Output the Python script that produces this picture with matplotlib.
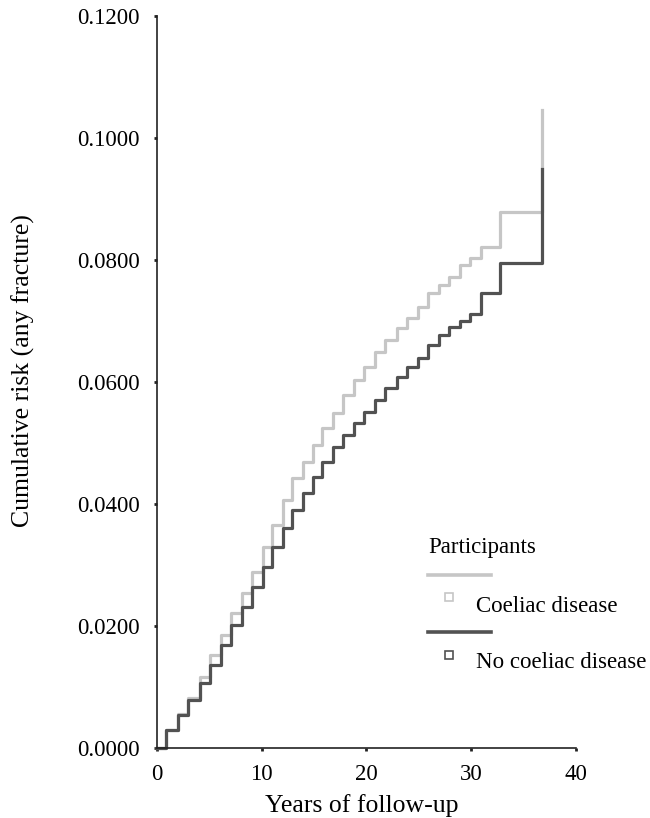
import matplotlib
matplotlib.use('Agg')
import matplotlib.pyplot as plt
from matplotlib.lines import Line2D

# step times (years) and cumulative risk after each step
years = [0, 0.9, 2.0, 3.0, 4.1, 5.1, 6.1, 7.1, 8.1, 9.1, 10.1, 11.0, 12.0,
         12.9, 13.9, 14.9, 15.8, 16.8, 17.8, 18.8, 19.8, 20.8, 21.8, 22.9,
         23.9, 24.9, 25.9, 26.9, 27.9, 28.9, 29.9, 30.9, 32.8, 36.8]
coeliac = [0, 0.0030, 0.0056, 0.0082, 0.0116, 0.0152, 0.0185, 0.0221, 0.0254,
           0.0289, 0.0330, 0.0366, 0.0407, 0.0443, 0.0469, 0.0497, 0.0524,
           0.0549, 0.0579, 0.0603, 0.0625, 0.0649, 0.0669, 0.0688, 0.0705,
           0.0723, 0.0746, 0.0759, 0.0772, 0.0792, 0.0803, 0.0821, 0.0879,
           0.1046]
no_coeliac = [0, 0.0030, 0.0054, 0.0079, 0.0107, 0.0136, 0.0169, 0.0202, 0.0231,
              0.0264, 0.0297, 0.0330, 0.0361, 0.0390, 0.0418, 0.0444, 0.0469,
              0.0493, 0.0513, 0.0533, 0.0551, 0.0570, 0.0590, 0.0608, 0.0625,
              0.0640, 0.0660, 0.0677, 0.0690, 0.0700, 0.0712, 0.0746, 0.0795,
              0.0949]

yticks = [0.0, 0.02, 0.04, 0.06, 0.08, 0.10, 0.12]
xticks = [0, 10, 20, 30, 40]

light = '#c6c6c6'
dark = '#525252'

plt.rcParams['font.family'] = ['Liberation Serif', 'DejaVu Serif']

fig = plt.figure(figsize=(6.5, 8.18), dpi=100)
ax = fig.add_axes([0.2415, 0.0856, 0.6445, 0.8946])

ax.step(years, coeliac, where='post', color=light, lw=2.3, clip_on=False)
ax.step(years, no_coeliac, where='post', color=dark, lw=2.3, clip_on=False)

ax.set_xlim(0, 40)
ax.set_ylim(0, 0.12)
ax.set_xticks(xticks)
ax.set_yticks(yticks)
ax.set_yticklabels(['%.4f' % v for v in yticks])
ax.tick_params(direction='out', length=2.5, width=2, labelsize=16.5, pad=10,
               color='#222222')
ax.tick_params(axis='x', pad=9)
for s in ['top', 'right']:
    ax.spines[s].set_visible(False)
for s in ['left', 'bottom']:
    ax.spines[s].set_linewidth(1.2)
    ax.spines[s].set_color('#222222')

ax.set_xlabel('Years of follow-up', fontsize=18.5, va='center')
ax.xaxis.set_label_coords(0.489, -0.078)
ax.set_ylabel('Cumulative risk (any fracture)', fontsize=18.5, va='center')
ax.yaxis.set_label_coords(-0.32, 0.516)

# legend drawn by hand (line above, small square with text below)
def fx(px):
    return px / 650.0

def fy(py):
    return 1 - py / 818.0

fig.text(fx(428), fy(547), 'Participants', fontsize=16.5, va='center', ha='left')
for col, ly, my, ty, label in [(light, 575, 597, 606, 'Coeliac disease'),
                               (dark, 632, 655, 662, 'No coeliac disease')]:
    fig.add_artist(Line2D([fx(428), fx(491)], [fy(ly), fy(ly)], color=col, lw=2.6))
    fig.add_artist(Line2D([fx(449)], [fy(my)], marker='s', markersize=6,
                          markerfacecolor='white', markeredgecolor=col,
                          markeredgewidth=1.2, lw=0))
    fig.text(fx(476), fy(ty), label, fontsize=16.5, va='center', ha='left')

fig.savefig('out.png', dpi=100)
